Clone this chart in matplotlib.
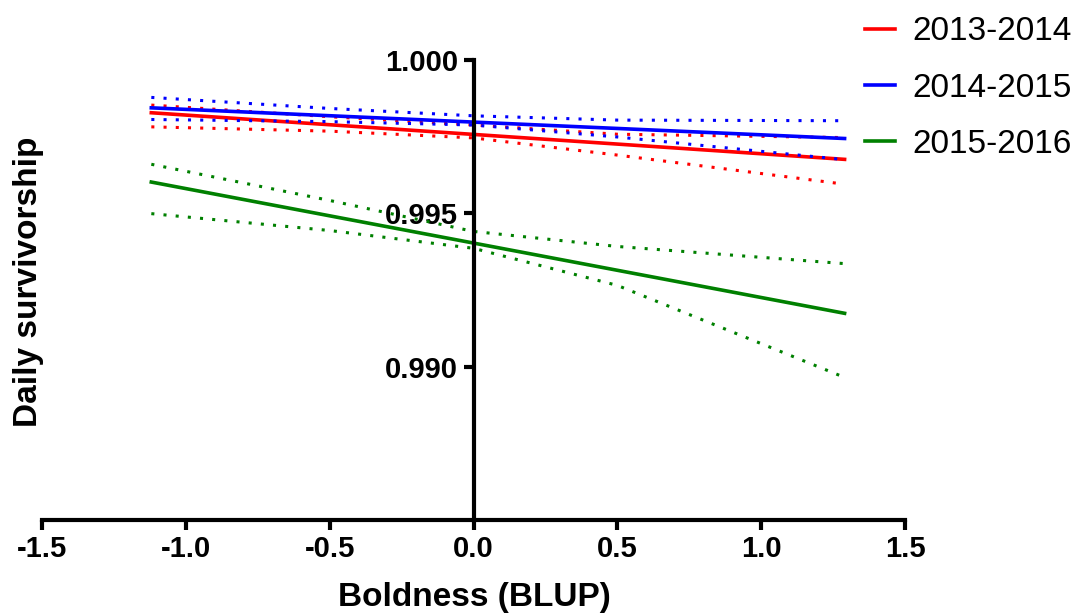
import matplotlib
matplotlib.use("Agg")
import matplotlib.pyplot as plt

plt.rcParams["font.family"] = ["Liberation Sans", "DejaVu Sans"]

# Boldness (BLUP) range covered by the fitted lines
x_fit = [-1.12, 1.29]
# Points along the 95% confidence bands
x_band = [-1.12, -0.5, 0.0, 0.5, 1.29]

seasons = ["2013-2014", "2014-2015", "2015-2016"]
colors = ["#ff0000", "#0000ff", "#008000"]

fit_2013 = [0.99828, 0.99676]
fit_2014 = [0.99844, 0.99744]
fit_2015 = [0.99602, 0.99174]

upper_2013 = [0.99853, 0.99815, 0.99788, 0.99758, 0.99747]
lower_2013 = [0.99782, 0.99768, 0.99746, 0.99690, 0.99595]
upper_2014 = [0.99878, 0.99842, 0.99818, 0.99804, 0.99802]
lower_2014 = [0.99806, 0.99799, 0.99788, 0.99749, 0.99675]
upper_2015 = [0.99660, 0.99542, 0.99441, 0.99392, 0.99336]
lower_2015 = [0.99499, 0.99444, 0.99386, 0.99265, 0.98965]

x_ticks = [-1.5, -1.0, -0.5, 0.0, 0.5, 1.0, 1.5]
x_ticklabels = ["-1.5", "-1.0", "-0.5", "0.0", "0.5", "1.0", "1.5"]
y_ticks = [0.990, 0.995, 1.000]
y_ticklabels = ["0.990", "0.995", "1.000"]

fits = [fit_2013, fit_2014, fit_2015]
uppers = [upper_2013, upper_2014, upper_2015]
lowers = [lower_2013, lower_2014, lower_2015]

fig = plt.figure(figsize=(10.83, 6.15), dpi=100)
ax = fig.add_axes([42 / 1083, 95 / 615, 863 / 1083, 460 / 615])

handles = []
for label, color, fit, up, lo in zip(seasons, colors, fits, uppers, lowers):
    dot = dict(color=color, lw=2.2, linestyle=(0, (1, 3)))
    ax.plot(x_band, up, **dot)
    ax.plot(x_band, lo, **dot)
    (h,) = ax.plot(x_fit, fit, color=color, lw=2.6, label=label)
    handles.append(h)

ax.set_xlim(-1.5, 1.5)
ax.set_ylim(0.985, 1.000)

ax.spines["top"].set_visible(False)
ax.spines["right"].set_visible(False)
ax.spines["left"].set_position(("data", 0))
for s in ("left", "bottom"):
    ax.spines[s].set_linewidth(3)
    ax.spines[s].set_zorder(5)

ax.set_xticks(x_ticks)
ax.set_xticklabels(x_ticklabels)
ax.set_yticks(y_ticks)
ax.set_yticklabels(y_ticklabels)
ax.tick_params(axis="both", direction="out", length=7, width=3, labelsize=21, pad=4)
for t in ax.get_xticklabels() + ax.get_yticklabels():
    t.set_fontweight("bold")
for t in ax.get_yticklabels():
    t.set_zorder(6)

fig.text(0.438, 0.004, "Boldness (BLUP)", ha="center", va="bottom",
         fontsize=24, fontweight="bold")
fig.text(0.012, 0.541, "Daily survivorship", ha="left", va="center",
         rotation=90, fontsize=24, fontweight="bold")

fig.legend(handles=handles, labels=seasons, loc="upper left",
           bbox_to_anchor=(852 / 1083, 0.995), frameon=False, fontsize=24,
           handlelength=0.9, handletextpad=0.5, labelspacing=0.76,
           borderaxespad=0.0)

fig.savefig("out.png", dpi=100)
